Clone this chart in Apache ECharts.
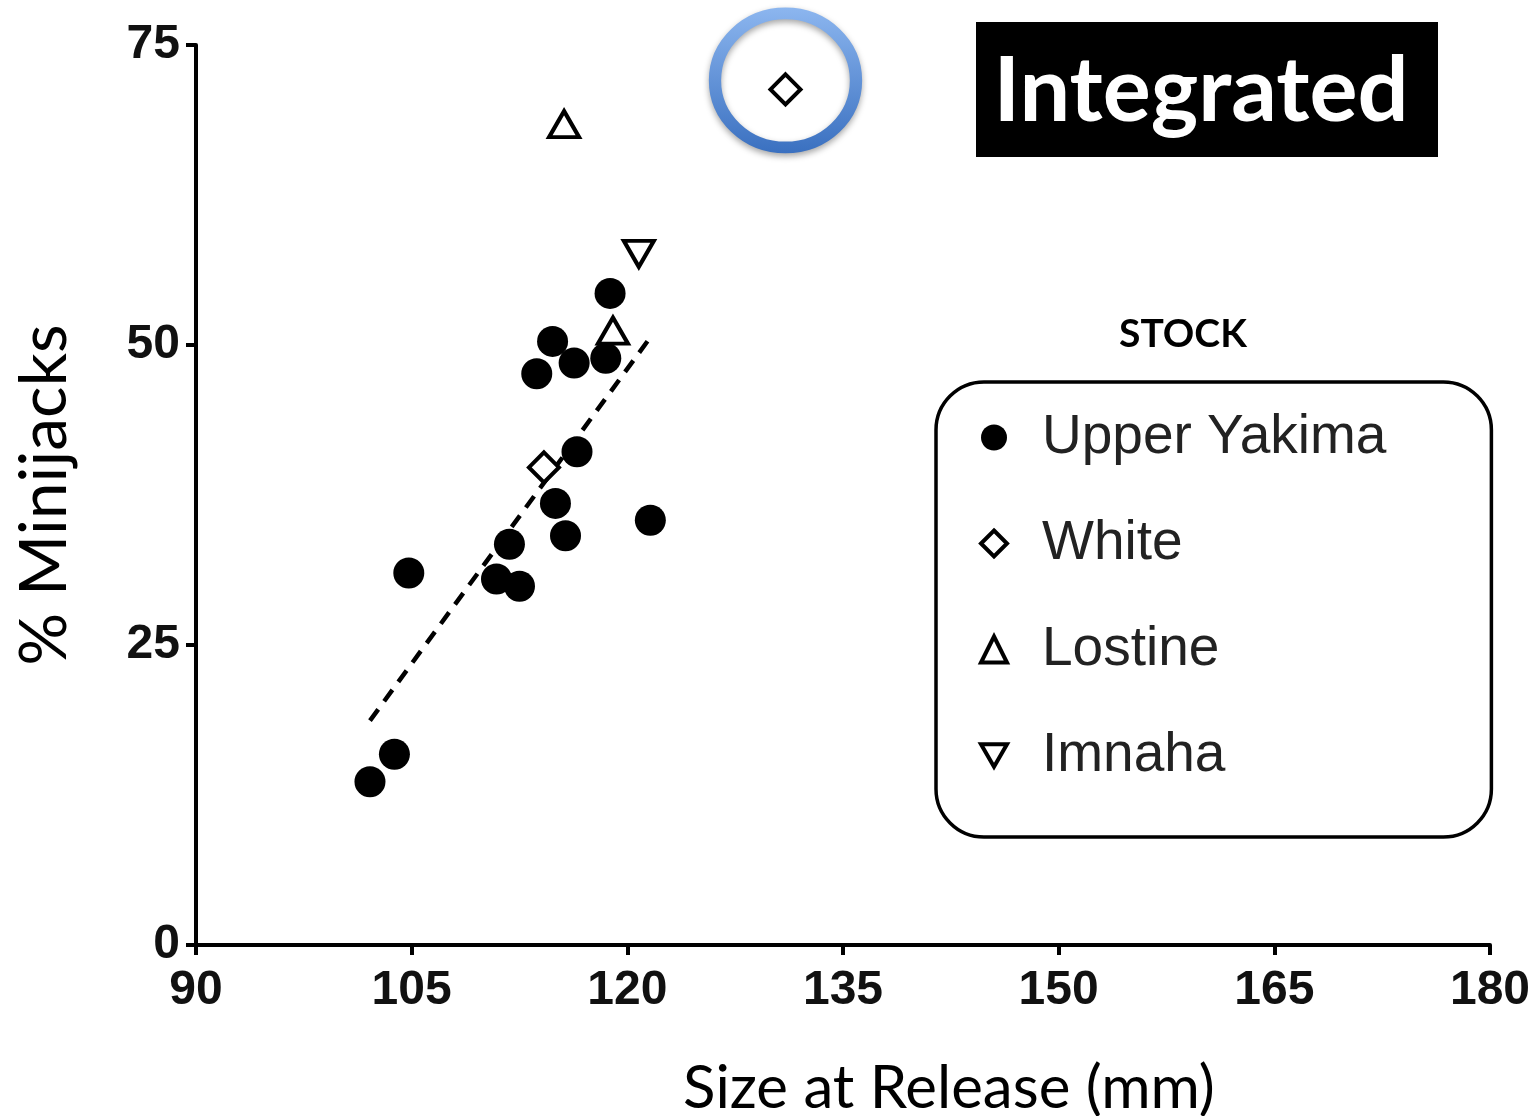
<!DOCTYPE html>
<html>
<head>
<meta charset="utf-8">
<script src="https://cdn.jsdelivr.net/npm/echarts@6/dist/echarts.min.js"></script>
<style>
html,body{margin:0;padding:0;background:#fff;}
#chart{width:1537px;height:1116px;}
</style>
</head>
<body>
<div id="chart"></div>
<script>
// ---- data ----
const upperYakima = [
  [102.1, 13.6], [103.8, 15.9], [104.8, 31.0], [110.9, 30.5], [112.5, 29.9],
  [111.8, 33.4], [115.0, 36.8], [115.7, 34.1], [116.5, 41.1], [113.7, 47.6],
  [114.8, 50.3], [116.3, 48.5], [118.5, 48.9], [118.8, 54.3], [121.6, 35.4]
];
const white = [[114.2, 39.8], [131.0, 71.3]];
const lostine = [[115.6, 68.4], [119.0, 51.2]];
const imnaha = [[120.8, 57.6]];
const trendLine = [[102.1, 18.7], [121.7, 50.8]];
const highlighted = [white[1]];
const xTicks = { min: 90, max: 180, interval: 15 };
const yTicks = { min: 0, max: 75, interval: 25 };
const stockNames = ['Upper Yakima', 'White', 'Lostine', 'Imnaha'];
const xTitle = 'Size at Release (mm)';
const yTitle = '% Minijacks';
const panelTitle = 'Integrated';
const legendTitle = 'STOCK';

const chart = echarts.init(document.getElementById('chart'), null, { renderer: 'canvas' });

const hollow = { color: '#fff', borderColor: '#000', borderWidth: 4, opacity: 1 };
const downTri = 'path://M0,0 L20,0 L10,17.3 Z';

const option = {
  backgroundColor: '#fff',
  animation: false,
  grid: { left: 196, right: 47, top: 45, bottom: 171, containLabel: false, outerBoundsMode: 'none' },
  xAxis: {
    type: 'value', min: xTicks.min, max: xTicks.max, interval: xTicks.interval,
    axisLine: { onZero: false, lineStyle: { color: '#000', width: 4 } },
    axisTick: { show: true, length: 10, lineStyle: { color: '#000', width: 4 } },
    axisLabel: { fontFamily: 'Liberation Sans', fontWeight: 'bold', fontSize: 48, color: '#111', margin: 22 },
    splitLine: { show: false },
    name: xTitle, nameLocation: 'middle', nameGap: 114,
    nameTextStyle: { fontFamily: 'Lato', fontSize: 60, color: '#000', padding: [0, 0, 0, 212] }
  },
  yAxis: {
    type: 'value', min: yTicks.min, max: yTicks.max, interval: yTicks.interval,
    axisLine: { onZero: false, lineStyle: { color: '#000', width: 4 } },
    axisTick: { show: true, length: 10, lineStyle: { color: '#000', width: 4 } },
    axisLabel: { fontFamily: 'Liberation Sans', fontWeight: 'bold', fontSize: 48, color: '#111', margin: 16 },
    splitLine: { show: false },
    name: yTitle, nameLocation: 'middle', nameGap: 118, nameRotate: 90,
    nameTextStyle: { fontFamily: 'Lato', fontSize: 66, color: '#000' }
  },
  legend: {
    orient: 'vertical', left: 936, top: 382,
    data: [
      { name: stockNames[0], icon: 'circle', itemStyle: { color: '#000', borderWidth: 0 } },
      { name: stockNames[1], icon: 'diamond', itemStyle: { color: '#fff', borderColor: '#000', borderWidth: 4 } },
      { name: stockNames[2], icon: 'triangle', itemStyle: { color: '#fff', borderColor: '#000', borderWidth: 4 } },
      { name: stockNames[3], icon: downTri, itemStyle: { color: '#fff', borderColor: '#000', borderWidth: 4 } }
    ],
    itemWidth: 26, itemHeight: 26, itemGap: 51,
    padding: [28, 105, 54, 43],
    borderColor: '#000', borderWidth: 3.5, borderRadius: 48,
    textStyle: { fontFamily: 'Liberation Sans', fontSize: 55, color: '#222', lineHeight: 54, padding: [0, 0, 0, 30] }
  },
  graphic: [
    {
      type: 'group', left: 976, top: 22,
      children: [
        { type: 'rect', shape: { x: 0, y: 0, width: 462, height: 135 }, style: { fill: '#000' } },
        { type: 'text', x: 225, y: 70, style: { text: panelTitle, fill: '#fff', font: 'bold 90px Lato', align: 'center', verticalAlign: 'middle' } }
      ]
    },
    { type: 'text', left: 1119, top: 315, style: { text: legendTitle, fill: '#000', font: 'bold 39px Lato' } }
  ],
  series: [
    {
      name: 'trend', type: 'line', data: trendLine, symbol: 'none', silent: true,
      lineStyle: { color: '#000', width: 4.5, type: [14, 10] }, z: 1
    },
    {
      name: stockNames[0], type: 'scatter', data: upperYakima, symbol: 'circle', symbolSize: 31,
      itemStyle: { color: '#000', opacity: 1 }, z: 3
    },
    {
      name: stockNames[1], type: 'scatter', data: white, symbol: 'diamond', symbolSize: 30,
      itemStyle: hollow, z: 4
    },
    {
      name: stockNames[2], type: 'scatter', data: lostine, symbol: 'triangle', symbolSize: [30, 26],
      itemStyle: hollow, z: 4
    },
    {
      name: stockNames[3], type: 'scatter', data: imnaha, symbol: 'triangle', symbolSize: [30, 26], symbolRotate: 180,
      itemStyle: hollow, z: 4
    },
    {
      name: 'highlight', type: 'scatter', data: highlighted, symbol: 'circle', symbolSize: [141, 134],
      symbolOffset: [0, -9], silent: true, z: 2,
      itemStyle: {
        color: 'rgba(0,0,0,0)', borderWidth: 12, opacity: 1,
        borderColor: new echarts.graphic.LinearGradient(0, 0, 0, 1, [
          { offset: 0, color: '#8cb6ef' }, { offset: 1, color: '#3a70c0' }
        ]),
        shadowColor: 'rgba(0,0,0,0.35)', shadowBlur: 6, shadowOffsetY: 3
      }
    }
  ]
};
chart.setOption(option);
</script>
</body>
</html>
